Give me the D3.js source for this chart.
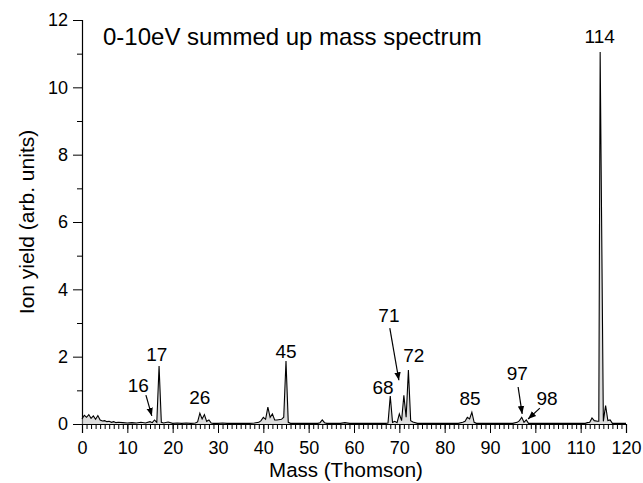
<!DOCTYPE html>
<html><head><meta charset="utf-8">
<script src="https://cdn.jsdelivr.net/npm/d3@7"></script>
<style>body{margin:0;background:#fff}svg{font-family:"Liberation Sans",Arial,sans-serif}</style>
</head><body><svg id="c" width="643" height="483"></svg>
<script>
const mass = [0,0.5,1,1.5,2,2.5,3,3.5,4,4.5,5,5.5,6,6.5,7,7.5,8,9,10,11,12,13,14,15,15.5,16,16.5,17,17.5,18,19,20,21,22,23,24,25,25.5,26,26.5,27,27.5,28,28.5,29,30,31,32,33,34,35,36,37,38,39,39.5,40,40.5,41,41.5,42,42.5,43,44,44.5,45,45.5,46,47,48,49,50,51,52,52.5,53,53.5,54,55,56,57,58,59,60,61,62,63,64,65,66,67,67.5,68,68.5,69,69.5,70,70.5,71,71.5,72,72.5,73,74,75,76,77,78,79,80,81,82,83,84,84.5,85,85.5,86,86.5,87,88,89,90,91,92,93,94,95,96,96.5,97,97.5,98,98.5,99,100,101,102,103,104,105,106,107,108,109,110,111,111.5,112,112.5,113,113.7,114,114.3,115,115.5,116,116.5,117,118,119,120];
const yieldVals = [0.15,0.26,0.2,0.28,0.17,0.24,0.14,0.25,0.12,0.09,0.1,0.07,0.08,0.05,0.07,0.04,0.05,0.04,0.03,0.04,0.03,0.05,0.03,0.07,0.04,0.12,0.05,1.72,0.05,0.03,0.06,0.02,0.03,0.02,0.03,0.02,0.03,0.06,0.32,0.15,0.28,0.08,0.12,0.03,0.02,0.02,0.03,0.02,0.02,0.02,0.02,0.02,0.02,0.03,0.05,0.1,0.2,0.14,0.5,0.2,0.3,0.12,0.12,0.14,0.2,1.87,0.05,0.02,0.02,0.02,0.02,0.02,0.02,0.02,0.04,0.12,0.04,0.02,0.02,0.02,0.02,0.04,0.02,0.02,0.02,0.02,0.02,0.02,0.02,0.02,0.02,0.03,0.83,0.05,0.08,0.04,0.3,0.1,0.85,0.2,1.6,0.1,0.06,0.02,0.02,0.02,0.02,0.02,0.02,0.02,0.02,0.02,0.02,0.05,0.08,0.2,0.15,0.35,0.05,0.02,0.02,0.02,0.02,0.02,0.02,0.02,0.02,0.02,0.05,0.1,0.2,0.05,0.12,0.02,0.02,0.02,0.02,0.02,0.02,0.02,0.02,0.02,0.02,0.02,0.02,0.02,0.02,0.04,0.05,0.18,0.1,0.08,0.08,11.05,0.08,0.55,0.1,0.12,0.02,0.02,0.02,0.02,0.02];

const peakLabels = ["114","17","16","26","45","68","71","72","85","97","98"];
const labelMass  = [114.2,16.5,12.4,26.0,45.0,66.4,67.7,73.2,85.6,96.0,102.6];
const labelYield = [11.32,1.87,0.95,0.59,1.96,0.89,3.03,1.84,0.56,1.3,0.56];

const arrowFromMass  = [14.1,67.9,96.2,101.0];
const arrowFromYield = [0.86,2.85,1.1,0.47];
const arrowToMass    = [15.4,69.9,97.1,98.4];
const arrowToYield   = [0.24,1.3,0.3,0.15];

const xTicks = [0,10,20,30,40,50,60,70,80,90,100,110,120];
const yTicks = [0,2,4,6,8,10,12];
const title = "0-10eV summed up mass spectrum";
const xTitle = "Mass (Thomson)";
const yTitle = "Ion yield (arb. units)";

const svg = d3.select("#c");
const x = d3.scaleLinear().domain([0,120]).range([82,626]);
const y = d3.scaleLinear().domain([0,12]).range([424,20]);

svg.append("defs").append("marker").attr("id","ah").attr("viewBox","0 0 10 10")
  .attr("refX",10).attr("refY",5).attr("markerWidth",8).attr("markerHeight",8)
  .attr("orient","auto").attr("markerUnits","userSpaceOnUse")
  .append("path").attr("d","M0,1 L10,5 L0,9 Z").attr("fill","#000");

const gx = svg.append("g").attr("transform","translate(0,424)");
gx.call(d3.axisBottom(x).tickValues(d3.range(0,121,1)).tickSize(5).tickFormat(""));
gx.select(".domain").remove();
const gx2 = svg.append("g").attr("transform","translate(0,424)")
  .call(d3.axisBottom(x).tickValues(xTicks).tickSize(9).tickPadding(8).tickFormat(d3.format("d")));
gx2.selectAll("text").attr("font-size",18).attr("fill","#000").attr("font-family","Liberation Sans, Arial");
const gy = svg.append("g").attr("transform","translate(82,0)");
gy.call(d3.axisLeft(y).tickValues(d3.range(1,12,2)).tickSize(5).tickFormat(""));
gy.select(".domain").remove();
const gy2 = svg.append("g").attr("transform","translate(82,0)")
  .call(d3.axisLeft(y).tickValues(yTicks).tickSize(9).tickPadding(5).tickFormat(d3.format("d")));
gy2.selectAll("text").attr("font-size",18).attr("fill","#000").attr("font-family","Liberation Sans, Arial");
svg.selectAll(".domain").attr("stroke","#000").attr("stroke-width",1.2);
svg.selectAll(".tick line").attr("stroke","#000");

const data = mass.map((m,i)=>({m, v: yieldVals[i]}));
svg.append("path").datum(data)
  .attr("d", d3.area().x(d=>x(d.m)).y0(y(0)).y1(d=>y(d.v)))
  .attr("fill","#bbb").attr("opacity",0.5);
svg.append("path").datum(data)
  .attr("d", d3.line().x(d=>x(d.m)).y(d=>y(d.v)))
  .attr("fill","none").attr("stroke","#000").attr("stroke-width",1.1);

svg.selectAll("text.pl").data(peakLabels).join("text").attr("class","pl")
  .attr("x",(d,i)=>x(labelMass[i])).attr("y",(d,i)=>y(labelYield[i]))
  .attr("text-anchor","middle").attr("font-size",19).text(d=>d);

svg.selectAll("line.ar").data(arrowFromMass).join("line").attr("class","ar")
  .attr("x1",(d,i)=>x(d)).attr("y1",(d,i)=>y(arrowFromYield[i]))
  .attr("x2",(d,i)=>x(arrowToMass[i])).attr("y2",(d,i)=>y(arrowToYield[i]))
  .attr("stroke","#000").attr("stroke-width",1.2).attr("marker-end","url(#ah)");

svg.append("text").attr("x",103).attr("y",45).attr("font-size",24).text(title);
svg.append("text").attr("x",346).attr("y",477).attr("text-anchor","middle").attr("font-size",20.5).text(xTitle);
svg.append("text").attr("transform","translate(34,222) rotate(-90)").attr("text-anchor","middle").attr("font-size",21).text(yTitle);
</script></body></html>
